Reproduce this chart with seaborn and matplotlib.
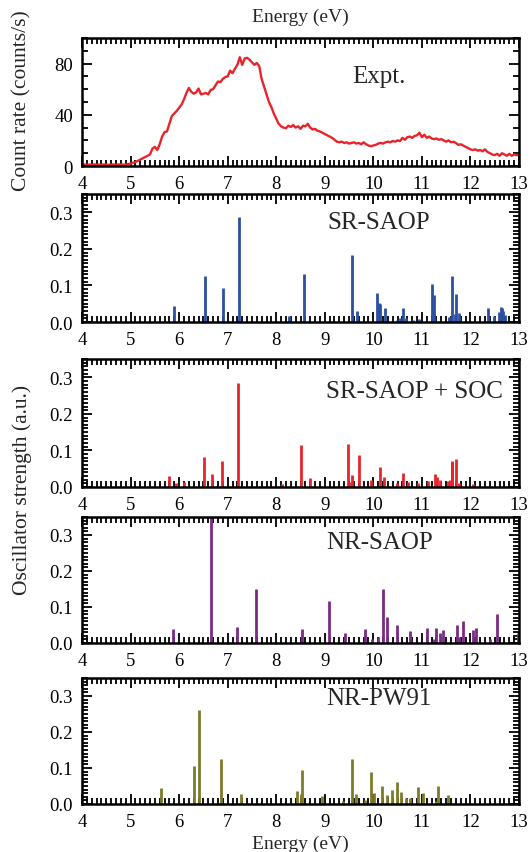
import numpy as np
import pandas as pd
import matplotlib
matplotlib.use("Agg")
import matplotlib.pyplot as plt
from matplotlib.ticker import MultipleLocator, FormatStrFormatter
import seaborn as sns

# Experimental spectrum, sampled every 0.05 eV from 4 to 13 eV
expt_energy = np.round(np.arange(4.0, 13.0001, 0.05), 2)
expt_rate = [
    1.0, 1.2, 0.8, 1.1, 1.0, 1.3, 0.9, 1.1, 1.0, 1.2, 1.0, 0.9, 1.1, 1.2, 1.0, 1.1, 1.3, 1.0, 1.2, 1.5,
    1.8, 2.5, 3.2, 4.0, 5.0, 6.0, 7.0, 8.0, 9.0, 13.5, 15.0, 12.5, 17.0, 23.0, 26.5, 27.0, 33.0, 39.0, 41.0, 43.0,
    45.5, 48.0, 52.0, 57.0, 61.0, 58.0, 56.5, 57.5, 60.5, 56.0, 56.5, 57.0, 56.0, 59.5, 60.0, 63.0, 66.0, 65.5, 68.0, 69.5,
    70.0, 74.5, 72.5, 76.0, 79.0, 85.0, 79.0, 84.0, 84.5, 83.0, 81.0, 79.0, 80.5, 78.0, 68.0, 62.0, 56.0, 50.0, 46.0, 41.0,
    37.0, 33.0, 31.0, 30.0, 29.5, 31.5, 30.5, 32.0, 30.0, 31.0, 29.0, 31.5, 31.0, 33.0, 30.0, 28.5, 29.0, 27.5, 27.0, 26.0,
    25.0, 24.0, 23.0, 22.0, 20.5, 19.0, 18.5, 19.0, 18.0, 18.5, 17.5, 18.0, 18.5, 17.5, 18.0, 17.0, 18.5, 17.0, 16.0, 15.5,
    16.0, 16.5, 17.5, 18.0, 17.5, 18.5, 19.0, 18.5, 19.5, 19.0, 20.0, 19.5, 22.0, 20.5, 22.5, 23.0, 22.0, 23.5, 24.0, 26.0,
    22.5, 24.5, 22.0, 23.0, 21.5, 21.0, 21.5, 20.5, 21.0, 20.0, 19.0, 20.0, 18.5, 19.0, 18.0, 16.5, 17.0, 16.0, 15.0, 14.0,
    13.0, 12.5, 13.0, 12.0, 12.5, 11.5, 13.0, 11.0, 10.0, 9.0, 8.5, 9.5, 8.0, 10.0, 9.0, 8.0, 9.5, 8.0, 9.0, 8.5,
    8.5,
]

# Calculated excitations: energy (eV) and oscillator strength (a.u.)
sr_saop_e = [5.90, 6.54, 6.91, 7.24, 8.26, 8.58, 9.56, 9.67, 10.07, 10.11, 10.13, 10.24, 10.48, 10.55,
             10.61, 10.67, 10.82, 10.94, 11.21, 11.24, 11.55, 11.61, 11.68, 11.70, 11.76, 12.37, 12.48,
             12.59, 12.62, 12.65, 12.68, 12.72]
sr_saop_f = [0.044, 0.127, 0.094, 0.286, 0.017, 0.130, 0.182, 0.030, 0.079, 0.052, 0.050, 0.039, 0.005, 0.011,
             0.037, 0.011, 0.005, 0.009, 0.105, 0.073, 0.014, 0.127, 0.022, 0.077, 0.024, 0.039, 0.017,
             0.028, 0.041, 0.039, 0.029, 0.020]

soc_e = [5.80, 5.94, 6.10, 6.51, 6.68, 6.88, 7.21, 8.11, 8.50, 8.69, 9.48, 9.55, 9.57, 9.71, 9.96, 10.13,
         10.21, 10.48, 10.62, 10.72, 10.92, 11.13, 11.28, 11.31, 11.38, 11.54, 11.57, 11.61, 11.63, 11.70,
         11.76, 12.05]
soc_f = [0.030, 0.011, 0.014, 0.082, 0.036, 0.072, 0.284, 0.007, 0.116, 0.025, 0.118, 0.014, 0.034, 0.088,
         0.018, 0.055, 0.026, 0.011, 0.038, 0.015, 0.012, 0.016, 0.036, 0.027, 0.020, 0.016, 0.018, 0.070,
         0.067, 0.076, 0.011, 0.009]

nr_saop_e = [5.88, 6.66, 7.19, 7.58, 8.53, 9.08, 9.41, 9.82, 9.97, 10.10, 10.20, 10.28, 10.48, 10.75, 11.11,
             11.25, 11.30, 11.37, 11.44, 11.72, 11.76, 11.84, 12.05, 12.12, 12.41, 12.55, 12.97]
nr_saop_f = [0.040, 0.350, 0.045, 0.150, 0.038, 0.117, 0.029, 0.038, 0.011, 0.016, 0.151, 0.071, 0.051, 0.032,
             0.043, 0.011, 0.042, 0.029, 0.037, 0.049, 0.016, 0.060, 0.035, 0.041, 0.011, 0.080, 0.027]

nr_pw91_e = [5.63, 6.30, 6.41, 6.86, 7.27, 8.43, 8.50, 8.54, 8.94, 9.37, 9.56, 9.65, 9.83, 9.96, 10.02, 10.18,
             10.28, 10.38, 10.49, 10.58, 10.67, 10.76, 10.92, 11.03, 11.30, 11.33, 11.53]
nr_pw91_f = [0.044, 0.105, 0.261, 0.124, 0.027, 0.035, 0.027, 0.094, 0.023, 0.009, 0.124, 0.029, 0.011, 0.088,
             0.030, 0.049, 0.024, 0.038, 0.062, 0.033, 0.018, 0.016, 0.048, 0.030, 0.009, 0.049, 0.025]

# name, energies, strengths, colour, label height (data units), alignment
panels = [
    ("SR-SAOP", sr_saop_e, sr_saop_f, "#2d4fa2", 0.273, "center"),
    ("SR-SAOP + SOC", soc_e, soc_f, "#e8242b", 0.262, "right"),
    ("NR-SAOP", nr_saop_e, nr_saop_f, "#7b2a85", 0.280, "center"),
    ("NR-PW91", nr_pw91_e, nr_pw91_f, "#7c7b2b", 0.295, "center"),
]

sns.set_style("ticks")
plt.rcParams["font.family"] = ["Liberation Serif", "DejaVu Serif"]

W, H = 531, 853
fig = plt.figure(figsize=(W / 100, H / 100), dpi=100)


def px_axes(top, bottom, left=82, right=519):
    return fig.add_axes([left / W, 1 - bottom / H, (right - left) / W, (bottom - top) / H])


def style_axes(ax, ymajor, yminor):
    ax.set_xlim(4, 13)
    ax.xaxis.set_major_locator(MultipleLocator(1))
    ax.xaxis.set_minor_locator(MultipleLocator(0.1))
    ax.yaxis.set_major_locator(MultipleLocator(ymajor))
    ax.yaxis.set_minor_locator(MultipleLocator(yminor))
    ax.tick_params(which="both", direction="in", top=True, right=True, width=1.3,
                   colors="black", labelsize=13.5, pad=6.5)
    ax.tick_params(which="major", length=7)
    ax.tick_params(which="minor", length=4)
    for s in ax.spines.values():
        s.set_linewidth(1.8)
        s.set_color("black")
    ax.set_facecolor("white")


# top panel: experiment
ax0 = px_axes(39, 167)
df = pd.DataFrame({"Energy": expt_energy, "Rate": expt_rate})
sns.lineplot(data=df, x="Energy", y="Rate", ax=ax0, color="#e8242b", linewidth=1.7)
ax0.set_ylim(0, 100)
style_axes(ax0, 40, 10)
ax0.set_xlabel("Energy (eV)", fontsize=14, labelpad=12)
ax0.xaxis.set_label_position("top")
ax0.set_ylabel("")
ax0.text(0.68, 0.70, "Expt.", transform=ax0.transAxes, fontsize=18, ha="center", va="center")

rows = [(195, 323), (360, 488), (518, 644), (679, 805)]
axes = []
for (name, e, f, col, ylab, ha), (t, b) in zip(panels, rows):
    ax = px_axes(t, b)
    ax.vlines(e, 0, f, color=col, linewidth=2.0)
    ax.set_ylim(0, 0.35)
    style_axes(ax, 0.1, 0.01)
    ax.yaxis.set_major_formatter(FormatStrFormatter("%.1f"))
    xt = 12.67 if ha == "right" else 10.12
    ax.text(xt, ylab, name, fontsize=18, ha=ha, va="center")
    axes.append(ax)

axes[-1].set_xlabel("Energy (eV)", fontsize=14, labelpad=3)
fig.text(22 / W, 1 - 101 / H, "Count rate (counts/s)", rotation=90,
         fontsize=15.5, ha="center", va="center")
fig.text(22 / W, 1 - 490 / H, "Oscillator strength (a.u.)", rotation=90,
         fontsize=15.5, ha="center", va="center")

fig.savefig("out.png", dpi=100)
